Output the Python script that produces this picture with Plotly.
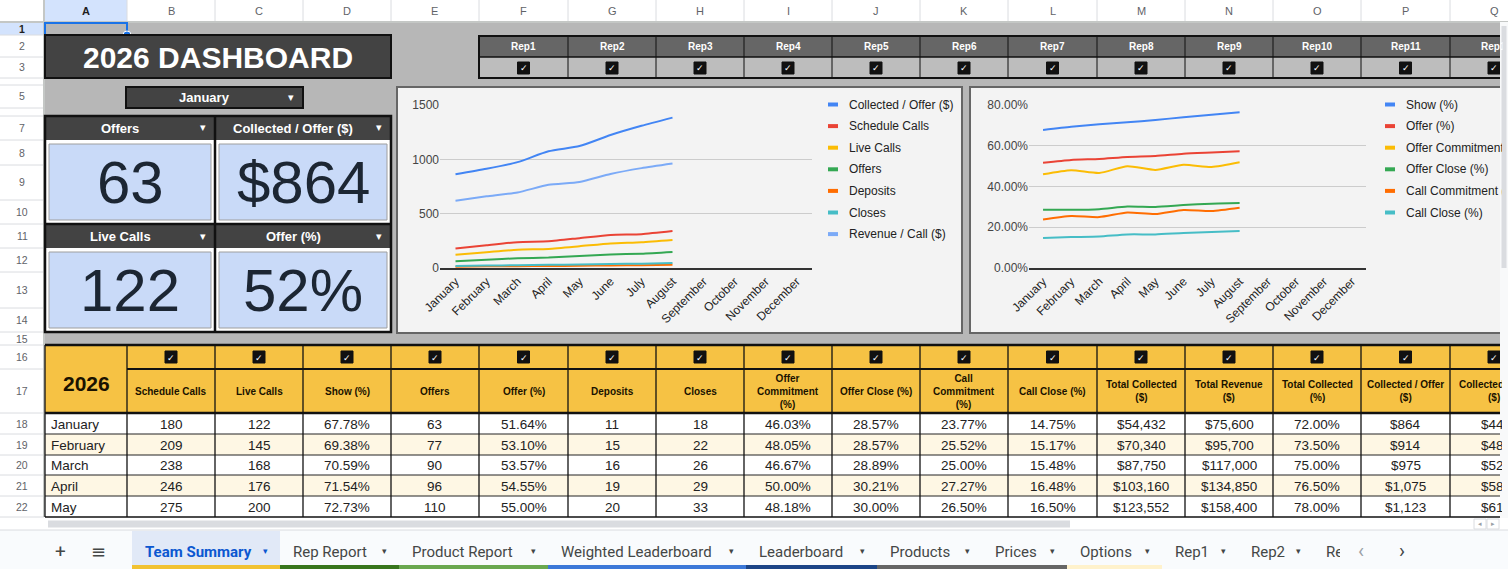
import numpy as np
import plotly.graph_objects as go

W, H = 1508, 569
SHEET_FONT = "Liberation Sans, Arial, sans-serif"
UI_FONT = "Roboto, Liberation Sans, sans-serif"
SYM_FONT = "DejaVu Sans, sans-serif"

# ---------------- data ----------------
months = ["January", "February", "March", "April", "May", "June", "July",
          "August", "September", "October", "November", "December"]
chart_months = months[:8]

# chart 1 series (Jan - Aug)
collected_per_offer = [864, 914, 975, 1075, 1123, 1225, 1310, 1385]
schedule_calls = [180, 209, 238, 246, 275, 305, 312, 340]
live_calls = [122, 145, 168, 176, 200, 226, 238, 259]
offers = [63, 77, 90, 96, 110, 124, 132, 148]
deposits = [11, 15, 16, 19, 20, 24, 26, 30]
closes = [18, 22, 26, 29, 33, 37, 40, 45]
revenue_per_call = [620, 660, 696, 766, 792, 866, 920, 963]

# chart 2 series, percent (Jan - Aug)
show_pct = [67.78, 69.38, 70.59, 71.54, 72.73, 74.0, 75.3, 76.5]
offer_pct = [51.64, 53.10, 53.57, 54.55, 55.00, 56.1, 56.7, 57.3]
offer_commit_pct = [46.03, 48.05, 46.67, 50.00, 48.18, 50.7, 49.6, 51.9]
offer_close_pct = [28.57, 28.57, 28.89, 30.21, 30.00, 30.9, 31.6, 31.9]
call_commit_pct = [23.77, 25.52, 25.00, 27.27, 26.50, 28.5, 28.0, 29.6]
call_close_pct = [14.75, 15.17, 15.48, 16.48, 16.50, 17.2, 17.7, 18.2]

# table-only columns (Jan - May)
total_collected = [54432, 70340, 87750, 103160, 123552]
total_revenue = [75600, 95700, 117000, 134850, 158400]
total_collected_pct = [72.00, 73.50, 75.00, 76.50, 78.00]
collected_per_call = [446, 485, 522, 586, 618]

reps = [f"Rep{i}" for i in range(1, 13)]
tab_names = ["Team Summary", "Rep Report", "Product Report", "Weighted Leaderboard",
             "Leaderboard", "Products", "Prices", "Options", "Rep1", "Rep2"]
tab_colors = ["#f1c232", "#38761d", "#6aa84f", "#3c78d8", "#1c4587",
              "#666666", "#666666", "#fff2cc", None, None]

# ---------------- sheet grid ----------------
col_letters = list("ABCDEFGHIJKLMNOPQ")
col_edges = [45, 127, 215, 303, 391, 479, 568, 656, 744, 832, 920, 1008,
             1097, 1185, 1273, 1361, 1450, 1538]
row_edges = [22, 35, 57, 78, 85, 108, 116, 140, 165, 200, 224, 248, 272,
             308, 332, 345, 369, 413, 434, 455, 475, 496, 517]
tab_edges = [132, 280, 399, 548, 746, 877, 982, 1067, 1162, 1238, 1313]
VIEW_RIGHT = 1500  # vertical scrollbar starts here

shapes, notes = [], []


def px(x):
    return x / W


def py(y):
    return 1 - y / H


def box(x0, y0, x1, y1, fill=None, line=None, width=1):
    shapes.append(dict(type="rect", xref="paper", yref="paper", layer="below",
                       x0=px(x0), x1=px(x1), y0=py(y1), y1=py(y0),
                       fillcolor=fill or "rgba(0,0,0,0)",
                       line=dict(color=line or "rgba(0,0,0,0)", width=width if line else 0)))


def seg(x0, y0, x1, y1, color, width=1):
    shapes.append(dict(type="line", xref="paper", yref="paper", layer="below",
                       x0=px(x0), x1=px(x1), y0=py(y0), y1=py(y1),
                       line=dict(color=color, width=width)))


def label(x, y, text, size=12, color="#222222", bold=False, anchor="center",
          family=SHEET_FONT, width=None):
    notes.append(dict(xref="paper", yref="paper", x=px(x), y=py(y),
                      text=f"<b>{text}</b>" if bold else text, showarrow=False,
                      xanchor=anchor, yanchor="middle", align="left" if anchor == "left" else "center",
                      font=dict(size=size, color=color, family=family), width=width))


def edge_label(cx, y, text, est_width, **kw):
    # centred text that runs under the sheet's scrollbar: start it where it would start, clip it
    left = cx - est_width / 2
    label(left, y, text, anchor="left", width=VIEW_RIGHT - left, **kw)


def checkbox(x, y):
    box(x - 6, y - 6, x + 6, y + 6, fill="#111111", line="#111111", width=1)
    label(x, y + 0.5, "✓", size=9, color="white", bold=True, family=SYM_FONT)


def centre(i):
    return (col_edges[i] + col_edges[i + 1]) / 2


# column header strip
box(0, 0, W, 22, fill="#ffffff")
for i, letter in enumerate(col_letters):
    if i == 0:
        box(col_edges[0], 0, col_edges[1], 22, fill="#d3e3fd")
    seg(col_edges[i + 1], 0, col_edges[i + 1], 22, "#dadce0", 1)
    label(centre(i), 11, letter, size=11, color="#1f1f1f" if i == 0 else "#5f6368", bold=(i == 0))

# row header strip
box(0, 22, 45, 517, fill="#ffffff")
box(0, 22, 44, 35, fill="#d3e3fd")
for r in range(len(row_edges) - 1):
    y0, y1 = row_edges[r], row_edges[r + 1]
    seg(0, y1, 44, y1, "#dadce0", 1)
    if y1 - y0 >= 13:
        label(22, (y0 + y1) / 2, str(r + 1), size=10.5, color="#1f1f1f" if r == 0 else "#5f6368",
              bold=(r == 0))
seg(44, 0, 44, 517, "#c4c7c5", 2)
seg(0, 22, W, 22, "#c4c7c5", 2)

# dashboard background
box(45, 23, 1500, 345, fill="#b7b7b7")
box(45, 23, 127, 35, line="#1a73e8", width=2)
shapes.append(dict(type="circle", xref="paper", yref="paper", layer="below",
                   x0=px(123), x1=px(131), y0=py(39), y1=py(31),
                   fillcolor="#1a73e8", line=dict(color="white", width=1)))

# title + month selector
box(45, 35, 391, 78, fill="#434343", line="#111111", width=2)
label(218, 57, "2026 DASHBOARD", size=30, color="white", bold=True)
box(126, 87, 303, 108, fill="#434343", line="#111111", width=2)
label(205, 97.5, months[0], size=13, color="white", bold=True)
label(291, 97, "▾", size=11, color="white", family=SYM_FONT)

# KPI tiles
kpi_titles = ["Offers", "Collected / Offer ($)", "Live Calls", "Offer (%)"]
kpi_values = [f"{offers[0]}", f"${collected_per_offer[0]:,}", f"{live_calls[0]}",
              f"{offer_pct[0]:.0f}%"]
kpi_cells = [(0, 7), (1, 7), (0, 11), (1, 11)]
for (c, r), title, value in zip(kpi_cells, kpi_titles, kpi_values):
    x0, x1 = col_edges[c] if c == 0 else col_edges[2], col_edges[2] if c == 0 else col_edges[4]
    yh0, yh1, yv1 = row_edges[r - 1], row_edges[r], row_edges[r + 3]
    box(x0, yh0, x1, yh1, fill="#434343")
    label((x0 + x1) / 2 - 10, (yh0 + yh1) / 2 + 0.5, title, size=13, color="white", bold=True)
    label(x1 - 12, (yh0 + yh1) / 2, "▾", size=11, color="white", family=SYM_FONT)
    box(x0, yh1, x1, yv1, fill="#ffffff")
    box(x0 + 4, yh1 + 4, x1 - 4, yv1 - 4, fill="#c9daf8", line="#9e9e9e", width=1)
    label((x0 + x1) / 2, (yh1 + yv1) / 2, value, size=60, color="#1c2633")
box(45, 116, 391, 332, line="#111111", width=2.5)
seg(215, 116, 215, 332, "#111111", 2.5)
seg(45, 224, 391, 224, "#111111", 2.5)

# rep selector strip
box(479, 36, 1538, 57, fill="#666666")
box(479, 57, 1538, 78, fill="#bdbdbd")
for i, rep in enumerate(reps):
    c = i + 5
    if col_edges[c + 1] > VIEW_RIGHT:
        edge_label(centre(c), 46.5, rep, 31, size=10, color="white", bold=True)
    else:
        label(centre(c), 46.5, rep, size=10, color="white", bold=True)
    checkbox(centre(c), 68)
    seg(col_edges[c + 1], 36, col_edges[c + 1], 78, "#111111", 1)
seg(479, 57, 1538, 57, "#111111", 1.5)
box(479, 36, 1538, 78, line="#111111", width=2)

# chart frames
box(397, 87, 962, 333, fill="#f3f3f3", line="#666666", width=2)
box(970, 87, 1515, 333, fill="#f3f3f3", line="#666666", width=2)

# ---------------- data table ----------------
table_cols = [
    ("Schedule Calls", schedule_calls, "{:d}"),
    ("Live Calls", live_calls, "{:d}"),
    ("Show (%)", show_pct, "{:.2f}%"),
    ("Offers", offers, "{:d}"),
    ("Offer (%)", offer_pct, "{:.2f}%"),
    ("Deposits", deposits, "{:d}"),
    ("Closes", closes, "{:d}"),
    ("Offer<br>Commitment<br>(%)", offer_commit_pct, "{:.2f}%"),
    ("Offer Close (%)", offer_close_pct, "{:.2f}%"),
    ("Call<br>Commitment<br>(%)", call_commit_pct, "{:.2f}%"),
    ("Call Close (%)", call_close_pct, "{:.2f}%"),
    ("Total Collected<br>($)", total_collected, "${:,d}"),
    ("Total Revenue<br>($)", total_revenue, "${:,d}"),
    ("Total Collected<br>(%)", total_collected_pct, "{:.2f}%"),
    ("Collected / Offer<br>($)", collected_per_offer, "${:,d}"),
    ("Collected / Call<br>($)", collected_per_call, "${:,d}"),
]
n_rows = len(total_collected)
tbl_top, hdr_mid, hdr_bot = row_edges[15], row_edges[16], row_edges[17]
box(45, tbl_top, 1538, hdr_bot, fill="#f6c244")
label(centre(0), (hdr_mid + hdr_bot) / 2 - 8, "2026", size=21, color="#1a1200", bold=True)
for j in range(n_rows):
    y0, y1 = row_edges[17 + j], row_edges[18 + j]
    box(45, y0, 1538, y1, fill="#ffffff" if j % 2 == 0 else "#fef7e4")
    label(49, (y0 + y1) / 2 + 0.5, months[j], size=13.5, anchor="left")
for i, (head, vals, fmt) in enumerate(table_cols):
    c = i + 1
    cut = col_edges[c + 1] > VIEW_RIGHT
    hy = (hdr_mid + hdr_bot) / 2
    checkbox(centre(c), (tbl_top + hdr_mid) / 2)
    if cut:
        first, second = head.split("<br>")
        edge_label(centre(c), hy - 6.5, first, 74, size=10, color="#1a1200", bold=True)
        edge_label(centre(c), hy + 6.5, second, 16, size=10, color="#1a1200", bold=True)
    else:
        label(centre(c), hy, head, size=10, color="#1a1200", bold=True)
    for j in range(n_rows):
        y0, y1 = row_edges[17 + j], row_edges[18 + j]
        v = vals[j]
        txt = fmt.format(int(v)) if "d}" in fmt else fmt.format(v)
        if cut:
            edge_label(centre(c), (y0 + y1) / 2 + 0.5, txt, 30, size=13.5)
        else:
            label(centre(c), (y0 + y1) / 2 + 0.5, txt, size=13.5)
for j in range(n_rows - 1):
    y = row_edges[18 + j]
    seg(45, y, 1538, y, "#222222", 1)
for e in col_edges:
    seg(e, tbl_top, e, 517, "#111111", 1.3)
seg(127, hdr_mid, 1538, hdr_mid, "#111111", 2)
seg(45, tbl_top, 1538, tbl_top, "#111111", 2.5)
seg(45, hdr_bot, 1538, hdr_bot, "#111111", 2.5)
seg(45, 517, 1538, 517, "#111111", 1.5)

# scrollbars
box(VIEW_RIGHT, 22, 1508, 518, fill="#f8f9fa")
box(1501.5, 26, 1506.5, 268, fill="#dadce0")
box(45, 518, 1508, 530, fill="#ffffff")
box(48, 520.5, 1070, 527.5, fill="#dadce0")
box(1474, 519, 1486, 529, line="#dadce0", width=1)
box(1487, 519, 1499, 529, line="#dadce0", width=1)
label(1480, 524, "◂", size=7, color="#9aa0a6", family=SYM_FONT)
label(1493, 524, "▸", size=7, color="#9aa0a6", family=SYM_FONT)

# sheet tabs
box(0, 530, W, H, fill="#f9fbfd")
seg(0, 530, W, 530, "#dadce0", 1)
label(60, 551, "+", size=19, color="#444746", family=UI_FONT)
label(99, 551, "≡", size=18, color="#444746", family=SYM_FONT)
for k, name in enumerate(tab_names):
    x0, x1 = tab_edges[k], tab_edges[k + 1]
    active = k == 0
    if active:
        box(x0, 531, x1, H, fill="#e1e9f7")
    if tab_colors[k]:
        box(x0, 565, x1, H, fill=tab_colors[k])
    label(x0 + 11, 551.5, name, size=15, color="#0b57d0" if active else "#444746",
          bold=active, anchor="left", family=UI_FONT)
    label(x1 - 15, 551, "▾", size=9, color="#0b57d0" if active else "#444746", family=SYM_FONT)
label(tab_edges[-1] + 11, 551.5, "Re", size=15, color="#444746", anchor="left", family=UI_FONT,
      width=14)
label(1361, 551, "‹", size=20, color="#9aa0a6", family=UI_FONT)
label(1402, 551, "›", size=20, color="#444746", family=UI_FONT)

# ---------------- line charts ----------------
fig = go.Figure()

chart1 = [("Collected / Offer ($)", collected_per_offer, "#4285f4"),
          ("Schedule Calls", schedule_calls, "#ea4335"),
          ("Live Calls", live_calls, "#fbbc04"),
          ("Offers", offers, "#34a853"),
          ("Deposits", deposits, "#ff6d01"),
          ("Closes", closes, "#46bdc6"),
          ("Revenue / Call ($)", revenue_per_call, "#7baaf7")]
chart2 = [("Show (%)", show_pct, "#4285f4"),
          ("Offer (%)", offer_pct, "#ea4335"),
          ("Offer Commitment (%)", offer_commit_pct, "#fbbc04"),
          ("Offer Close (%)", offer_close_pct, "#34a853"),
          ("Call Commitment (%)", call_commit_pct, "#ff6d01"),
          ("Call Close (%)", call_close_pct, "#46bdc6")]

for series, axis, scale, leg_x, clip in [(chart1, "", 1, 828, None),
                                         (chart2, "2", 100, 1385, VIEW_RIGHT - 1404)]:
    for k, (name, vals, color) in enumerate(series):
        fig.add_trace(go.Scatter(
            x=chart_months, y=np.array(vals) / scale, name=name, mode="lines",
            line=dict(color=color, width=2, shape="spline", smoothing=0.6),
            xaxis="x" + axis, yaxis="y" + axis, showlegend=False, hoverinfo="skip"))
        ly = 104.5 + k * 21.6
        box(leg_x, ly - 2, leg_x + 10, ly + 2, fill=color)
        label(leg_x + 19, ly, name, size=12, color="#222222", anchor="left", width=clip)

axis_common = dict(type="category", categoryorder="array", categoryarray=months,
                   range=[-0.5, 11.5], tickangle=-45, showgrid=False, ticks="",
                   showline=True, linecolor="#333333", linewidth=1.5, automargin=False,
                   tickfont=dict(size=12, color="#222222", family=SHEET_FONT))
yaxis_common = dict(showgrid=True, gridcolor="#cccccc", gridwidth=1, zeroline=False, ticks="",
                    automargin=False,
                    tickfont=dict(size=12, color="#444444", family=SHEET_FONT))

fig.update_layout(
    width=W, height=H,
    margin=dict(l=0, r=0, t=0, b=0, pad=0, autoexpand=False),
    paper_bgcolor="#ffffff",
    plot_bgcolor="rgba(0,0,0,0)",
    showlegend=False,
    xaxis=dict(domain=[px(440), px(812)], anchor="y", **axis_common),
    yaxis=dict(domain=[py(268), py(104.5)], anchor="x", range=[0, 1506],
               tickvals=[0, 500, 1000, 1500], **yaxis_common),
    xaxis2=dict(domain=[px(1029), px(1366)], anchor="y2", **axis_common),
    yaxis2=dict(domain=[py(268), py(104.5)], anchor="x2", range=[0, 0.803],
                tickvals=[0, 0.2, 0.4, 0.6, 0.8], tickformat=".2%", **yaxis_common),
    shapes=shapes,
    annotations=notes,
)

# the page body has a default 8px margin; drop it so the sheet sits at the corner
fig.write_html("out.html", config=dict(displayModeBar=False),
               post_script="document.body.style.margin='0px'; document.body.style.overflow='hidden';")
